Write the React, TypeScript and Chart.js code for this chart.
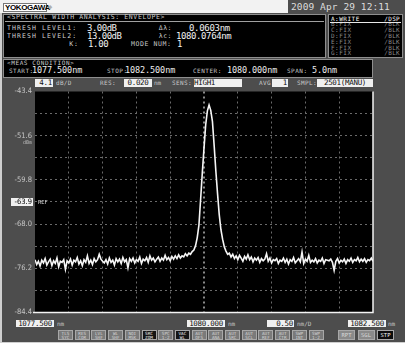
import React, { useEffect, useRef } from "react";
import { Chart, registerables } from "chart.js";
Chart.register(...registerables);

// ---------- data ----------
const WL_START = 1077.5;
const WL_STEP = 0.025;
const LEVELS_LEFT = [
  -74.6, -75.5, -74.9, -75.8, -74.7, -75.2, -74.4, -75.6, -75.0, -74.5,
  -75.7, -74.8, -75.3, -74.3, -75.9, -74.9, -75.1, -74.6, -76.4, -74.8,
  -75.2, -74.5, -75.6, -74.7, -75.0, -74.2, -75.4, -74.8, -75.7, -74.6,
  -75.1, -73.9, -75.3, -74.7, -75.5, -74.4, -75.0, -74.6, -73.6, -74.5,
  -74.9, -75.2, -74.6, -75.4, -74.3, -75.1, -74.7, -75.6, -74.4, -75.0,
  -74.5, -75.3, -74.2, -75.0, -74.6, -76.1, -74.4, -74.9, -74.3, -75.2,
  -74.6, -74.9, -74.1, -75.3, -74.5, -74.8, -74.2, -75.1, -73.9, -74.7,
  -74.3, -75.0, -74.5, -74.1, -74.9, -74.3, -74.7, -73.8, -74.6, -74.2,
  -74.8, -74.0, -74.5, -73.9, -74.4, -73.7, -74.3, -73.9, -74.1, -73.5,
  -73.9, -73.4,
];
const LEVELS_PEAK = [
  -73.6, -73.1, -72.8, -72.0, -70.5, -68.2, -63.4, -58.5, -53.9, -49.6,
  -47.0, -45.9, -46.9, -49.0, -53.4, -58.1, -62.3, -66.2, -69.0, -70.8,
  -72.2, -73.0, -73.6, -73.4,
];
const LEVELS_RIGHT = [
  -74.1, -73.6, -74.4, -73.9, -74.6, -73.8, -74.3, -74.9, -74.0, -74.5,
  -73.7, -74.6, -74.1, -75.0, -74.3, -74.7, -74.2, -75.1, -74.4, -74.8,
  -74.5, -73.5, -74.9, -74.3, -75.2, -74.6, -74.8, -74.4, -75.3, -74.7,
  -74.9, -74.3, -75.1, -74.5, -75.4, -74.6, -74.9, -74.2, -75.2, -74.8,
  -74.4, -75.0, -73.2, -75.3, -74.5, -74.9, -73.8, -75.1, -74.7, -75.0,
  -74.4, -75.2, -74.7, -74.9, -74.3, -75.3, -74.6, -74.7, -74.8, -74.5,
  -75.1, -76.6, -74.9, -74.4, -75.2, -74.7, -75.0, -74.5, -75.3, -74.6,
  -74.9, -74.3, -75.1, -74.6, -74.8, -74.2, -75.0, -74.5, -74.9, -74.4,
  -75.1, -74.6, -74.8, -74.3, -74.9,
];
const LEVELS = [...LEVELS_LEFT, ...LEVELS_PEAK, ...LEVELS_RIGHT];
const WAVELENGTHS = LEVELS.map((_, i) => WL_START + i * WL_STEP);

const X_GRID = [1077.5, 1078.0, 1078.5, 1079.0, 1079.5, 1080.0, 1080.5, 1081.0, 1081.5, 1082.0, 1082.5];
const Y_GRID = [-84.4, -80.3, -76.2, -72.1, -68.0, -63.9, -59.8, -55.7, -51.6, -47.5, -43.4];
const Y_LABELS = ["-84.4", "", "-76.2", "", "-68.0", "", "-59.8", "", "-51.6", "", "-43.4"];
const REF_LEVEL = -63.9;
const REF_TEXT = "-63.9";
const UNIT_LEVEL = -51.6;

const TRACES = [
  ["A:WRITE", "/DSP"],
  ["B:FIX", "/BLK"],
  ["C:FIX", "/BLK"],
  ["D:FIX", "/BLK"],
  ["E:FIX", "/BLK"],
  ["F:FIX", "/BLK"],
  ["G:FIX", "/BLK"],
];
const SOFTKEYS = [
  ["TLS", "SYC"], ["RES", "COR"], ["LVL", "SHF"], ["WL", "SHF"], ["NOI", "MSK"],
  ["SRC", "ZOM"], ["SPC", "1-2"], ["VAC", "WL"], ["AUT", "OFS"], ["AUT", "ANA"],
  ["AUT", "SRC"], ["AUT", "SCL"], ["AUT", "REF"], ["AUT", "CTR"], ["SWP", "INT"], ["SWP", "1-2"],
];
const DARK_KEYS = ["SRC", "VAC"];

// ---------- styling ----------
const MONO = "'DejaVu Sans Mono', 'Liberation Mono', monospace";
const COND = "'DejaVu Sans Condensed', 'DejaVu Sans', sans-serif";
const BG = "#4d4d4d";

type TP = {
  x: number; y: number; s?: number; c?: string; ls?: number; w?: number;
  align?: "left" | "right" | "center"; bold?: boolean; f?: string; children: React.ReactNode;
};
function T({ x, y, s = 7, c = "#cfcfcf", ls = 0, w = 120, align = "left", bold, f, children }: TP) {
  const left = align === "right" ? x - w : align === "center" ? x - w / 2 : x;
  return (
    <div
      style={{
        position: "absolute", left, top: y - s / 2, width: w, height: s,
        fontSize: s, lineHeight: `${s}px`, color: c, letterSpacing: ls, whiteSpace: "pre",
        textAlign: align, fontFamily: f || MONO, fontWeight: bold ? 700 : 400,
      }}
    >
      {children}
    </div>
  );
}

function Box({ x0, y0, x1, y1, text, align = "center", s = 7.5 }: any) {
  return (
    <div
      style={{
        position: "absolute", left: x0, top: y0, width: x1 - x0, height: y1 - y0,
        background: "#f0f0f0", color: "#111", fontSize: s, lineHeight: `${y1 - y0}px`,
        textAlign: align, fontFamily: MONO, whiteSpace: "pre", overflow: "hidden",
        letterSpacing: -0.3, boxSizing: "border-box", paddingRight: align === "right" ? 1 : 0,
      }}
    >
      {text}
    </div>
  );
}

function Panel({ x0, y0, x1, y1, children }: any) {
  return (
    <div
      style={{
        position: "absolute", left: x0, top: y0, width: x1 - x0, height: y1 - y0,
        background: "#000", border: "1px solid #8e8e8e", boxSizing: "border-box",
      }}
    >
      {children}
    </div>
  );
}

export default function App() {
  const ref = useRef<HTMLCanvasElement>(null);

  useEffect(() => {
    document.body.style.margin = "0";
    const points = WAVELENGTHS.map((x, i) => ({ x, y: LEVELS[i] }));

    const frame = {
      id: "osaFrame",
      beforeDraw(chart: any) {
        const { ctx, chartArea: a } = chart;
        ctx.save();
        ctx.fillStyle = "#000";
        ctx.fillRect(a.left, a.top, a.right - a.left, a.bottom - a.top);
        ctx.restore();
      },
      afterDraw(chart: any) {
        const { ctx, chartArea: a } = chart;
        const y = chart.scales.y;
        ctx.save();
        ctx.strokeStyle = "#f4f4f4";
        ctx.lineWidth = 1.5;
        ctx.beginPath();
        ctx.moveTo(a.left - 2, a.bottom);
        ctx.lineTo(a.right, a.bottom);
        ctx.lineTo(a.right, a.top);
        ctx.stroke();

        const ry = y.getPixelForValue(REF_LEVEL);
        ctx.fillStyle = "#f0f0f0";
        ctx.fillRect(a.left - 24, ry - 4, 22, 8);
        ctx.fillStyle = "#000";
        ctx.font = `7.5px ${COND}`;
        ctx.textAlign = "right";
        ctx.textBaseline = "middle";
        ctx.fillText(REF_TEXT, a.left - 3, ry + 0.5);
        ctx.fillStyle = "#d8d8d8";
        ctx.textAlign = "left";
        ctx.font = `5.5px ${MONO}`;
        ctx.fillText("REF", a.left + 3, ry + 0.5);

        const uy = y.getPixelForValue(UNIT_LEVEL);
        ctx.fillStyle = "#b8b8b8";
        ctx.textAlign = "right";
        ctx.font = `5px ${MONO}`;
        ctx.fillText("dBm", a.left - 3, uy + 7);
        ctx.restore();
      },
    };

    const chart = new Chart(ref.current as HTMLCanvasElement, {
      type: "line",
      data: {
        datasets: [
          {
            data: points,
            borderColor: "#f6f6f6",
            borderWidth: 1.6,
            pointRadius: 0,
            tension: 0,
            fill: false,
          },
        ],
      },
      options: {
        animation: false,
        responsive: false,
        maintainAspectRatio: false,
        layout: { padding: { top: 4, right: 7, bottom: 5, left: 0 } },
        plugins: { legend: { display: false }, tooltip: { enabled: false } },
        scales: {
          x: {
            type: "linear",
            min: X_GRID[0],
            max: X_GRID[X_GRID.length - 1],
            afterBuildTicks: (s: any) => { s.ticks = X_GRID.map((v) => ({ value: v })); },
            afterFit: (s: any) => { s.height = 0; },
            ticks: { display: false },
            grid: {
              drawTicks: false,
              tickLength: 0,
              color: (c: any) =>
                c.index === 0 || c.index === X_GRID.length - 1
                  ? "rgba(0,0,0,0)"
                  : c.index === 5 ? "#8a8a8a" : "#6a6a6a",
              lineWidth: (c: any) => (c.index === 5 ? 2 : 1),
            },
            border: { display: false, dash: [2, 3] },
          },
          y: {
            type: "linear",
            min: Y_GRID[0],
            max: Y_GRID[Y_GRID.length - 1],
            afterBuildTicks: (s: any) => { s.ticks = Y_GRID.map((v) => ({ value: v })); },
            afterFit: (s: any) => { s.width = 35; },
            ticks: {
              callback: (_v: any, i: number) => Y_LABELS[i],
              color: "#c6c6c6",
              font: { family: COND, size: 7.5 },
              padding: 3,
            },
            grid: {
              drawTicks: false,
              tickLength: 0,
              color: (c: any) =>
                c.index === 0 || c.index === Y_GRID.length - 1 ? "rgba(0,0,0,0)" : "#6a6a6a",
            },
            border: { display: false, dash: [2, 3] },
          },
        },
      },
      plugins: [frame],
    });
    return () => chart.destroy();
  }, []);

  return (
    <div
      style={{
        position: "fixed", left: 0, top: 0, width: 405, height: 343, background: BG,
        overflow: "hidden", fontFamily: MONO,
      }}
    >
      {/* frame edges */}
      <div style={{ position: "absolute", left: 0, top: 0, width: 1.5, height: 343, background: "#cfcfcf" }} />
      <div style={{ position: "absolute", left: 0, top: 341.5, width: 405, height: 1.5, background: "#cfcfcf" }} />

      {/* title bar */}
      <div style={{ position: "absolute", left: 0, top: 0, width: 288, height: 13, background: "#f2f2f2" }} />
      <div
        style={{
          position: "absolute", left: 3, top: 3, width: 44, height: 9, background: "#fff",
          border: "0.5px solid #777", boxSizing: "border-box", fontFamily: "'Liberation Sans', Arial",
          fontWeight: 700, fontSize: 8, lineHeight: "8px", color: "#000", letterSpacing: -0.4,
          paddingLeft: 1,
        }}
      >
        YOKOGAWA
      </div>
      <T x={48} y={7.5} s={7} c="#b0b0b0">◆</T>
      <T x={291} y={6.5} s={9.5} c="#dcdcdc" ls={0.1} w={120}>2009 Apr 29 12:11</T>

      {/* analysis panel */}
      <Panel x0={3} y0={14} x1={326} y1={58} />
      <T x={7} y={17.5} s={6.5} c="#c8c8c8" ls={0.6} w={200}>{"<SPECTRAL WIDTH ANALYSIS: ENVELOPE>"}</T>
      <div style={{ position: "absolute", left: 5, top: 21, width: 319, height: 0.8, background: "#a0a0a0" }} />
      <T x={7} y={28} s={6.5} c="#d0d0d0" ls={1.1} w={90}>THRESH LEVEL1:</T>
      <T x={87} y={28} s={9} c="#f2f2f2" ls={-0.5} w={60}>3.00dB</T>
      <T x={172} y={28} s={6.5} c="#c8c8c8" ls={0.5} w={20} align="right">Δλ:</T>
      <T x={189} y={28} s={9} c="#f2f2f2" ls={-0.3} w={70}>0.0603nm</T>
      <T x={7} y={36} s={6.5} c="#d0d0d0" ls={1.1} w={90}>THRESH LEVEL2:</T>
      <T x={87} y={36} s={9} c="#f2f2f2" ls={-0.5} w={60}>13.00dB</T>
      <T x={172} y={36} s={6.5} c="#c8c8c8" ls={0.5} w={20} align="right">λc:</T>
      <T x={176} y={36} s={9} c="#f2f2f2" ls={-0.4} w={80}>1080.0764nm</T>
      <T x={79} y={44} s={6.5} c="#d0d0d0" ls={1} w={20} align="right">K:</T>
      <T x={88} y={44} s={9} c="#f2f2f2" ls={-0.3} w={40}>1.00</T>
      <T x={131} y={44} s={6.5} c="#c8c8c8" ls={0.6} w={50}>MODE NUM:</T>
      <T x={177} y={44} s={9} c="#f2f2f2" w={20}>1</T>

      {/* trace panel */}
      <Panel x0={328} y0={14} x1={403} y1={58} />
      {TRACES.map((t, i) => (
        <React.Fragment key={t[0]}>
          <T x={331} y={18.5 + i * 5.8} s={6} c={i === 0 ? "#ffffff" : "#8a8a8a"} ls={0.5} w={40}>{t[0]}</T>
          <T x={400} y={18.5 + i * 5.8} s={6} c={i === 0 ? "#ffffff" : "#8a8a8a"} ls={0.3} w={30} align="right">{t[1]}</T>
        </React.Fragment>
      ))}
      <div style={{ position: "absolute", left: 330, top: 21.6, width: 71, height: 0.8, background: "#e8e8e8" }} />

      {/* measurement condition */}
      <Panel x0={3} y0={59} x1={373} y1={78} />
      <T x={7} y={62.5} s={6} c="#c8c8c8" ls={0.6} w={100}>{"<MEAS CONDITION>"}</T>
      <T x={9} y={70.5} s={6} c="#c8c8c8" ls={0.5} w={30}>START:</T>
      <T x={32} y={70} s={8.5} c="#eeeeee" ls={-0.1} w={70}>1077.500nm</T>
      <T x={107} y={70.5} s={6} c="#c8c8c8" ls={0.5} w={30}>STOP:</T>
      <T x={125} y={70} s={8.5} c="#eeeeee" ls={-0.1} w={70}>1082.500nm</T>
      <T x={193} y={70.5} s={6} c="#c8c8c8" ls={0.5} w={40}>CENTER:</T>
      <T x={227} y={70} s={8.5} c="#eeeeee" ls={-0.1} w={70}>1080.000nm</T>
      <T x={287} y={70.5} s={6} c="#c8c8c8" ls={0.5} w={30}>SPAN:</T>
      <T x={312} y={70} s={8.5} c="#eeeeee" ls={-0.1} w={40}>5.0nm</T>

      {/* plot header */}
      <Box x0={35} y0={79} x1={53} y1={87} text="4.1" align="right" />
      <T x={56} y={83} s={6} c="#c8c8c8" ls={0.3} w={30}>dB/D</T>
      <T x={100} y={83} s={6} c="#c8c8c8" ls={0.4} w={30}>RES:</T>
      <Box x0={124} y0={79} x1={152} y1={87} text="0.020" />
      <T x={154} y={83} s={6} c="#c8c8c8" w={20}>nm</T>
      <T x={172} y={83} s={6} c="#c8c8c8" ls={0.4} w={30}>SENS:</T>
      <Box x0={194} y0={79} x1={242} y1={87} text="HIGH1" align="left" />
      <T x={259} y={83} s={6} c="#c8c8c8" ls={0.4} w={30}>AVG:</T>
      <Box x0={272} y0={79} x1={288} y1={87} text="1" align="right" />
      <T x={297} y={83} s={6} c="#c8c8c8" ls={0.4} w={30}>SMPL:</T>
      <Box x0={317} y0={79} x1={373} y1={87} text="2501(MANU)" />

      {/* bottom labels */}
      <Box x0={16} y0={320} x1={54} y1={327} text="1077.500" />
      <T x={57} y={323.5} s={6} c="#c8c8c8" w={20}>nm</T>
      <Box x0={187} y0={320} x1={225} y1={327} text="1080.000" />
      <T x={228} y={323.5} s={6} c="#c8c8c8" w={20}>nm</T>
      <Box x0={267} y0={320} x1={294} y1={327} text="0.50" align="right" />
      <T x={297} y={323.5} s={6} c="#c8c8c8" w={30}>nm/D</T>
      <Box x0={348} y0={320} x1={386} y1={327} text="1082.500" />
      <T x={388} y={323.5} s={6} c="#c8c8c8" w={20}>nm</T>

      {/* soft keys */}
      {SOFTKEYS.map((k, i) => {
        const dark = DARK_KEYS.includes(k[0]);
        return (
          <div
            key={i}
            style={{
              position: "absolute", left: 58 + i * 16.7, top: 330, width: 15, height: 10,
              background: dark ? "#151515" : "#7a7a7a", border: "0.8px solid #a8a8a8",
              boxSizing: "border-box", color: dark ? "#f0f0f0" : "#d4d4d4", fontSize: 4.3,
              lineHeight: "4.2px", textAlign: "center", fontFamily: MONO, paddingTop: 0.6,
            }}
          >
            {k[0]}
            <br />
            {k[1]}
          </div>
        );
      })}
      {["RPT", "SGL", "STP"].map((k, i) => (
        <div
          key={k}
          style={{
            position: "absolute", left: 338 + i * 19.5, top: 330, width: 17, height: 10,
            background: k === "STP" ? "#0c0c0c" : "#8a8a8a", border: "0.8px solid #a8a8a8",
            boxSizing: "border-box", color: k === "STP" ? "#f4f4f4" : "#d8d8d8", fontSize: 5.5,
            lineHeight: "8.5px", textAlign: "center", fontFamily: MONO,
          }}
        >
          {k}
        </div>
      ))}

      <canvas
        ref={ref}
        width={380}
        height={236}
        style={{ position: "absolute", left: 0, top: 84, width: 380, height: 236 }}
      />
    </div>
  );
}
